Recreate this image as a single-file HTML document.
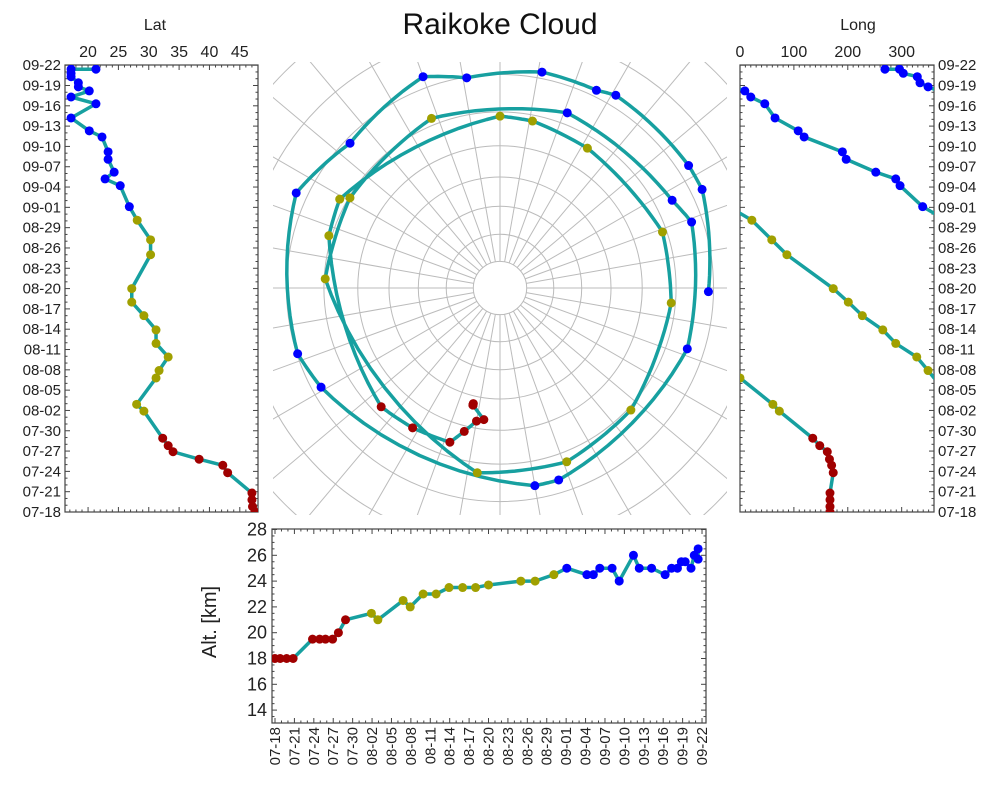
<!DOCTYPE html>
<html><head><meta charset="utf-8">
<style>
body{margin:0;background:#fff;}
svg{display:block;font-family:"Liberation Sans",sans-serif;}
</style></head>
<body>
<svg id="chart" width="1001" height="785" viewBox="0 0 1001 785">
<defs>
<clipPath id="clipL"><rect x="65" y="65" width="193" height="447"/></clipPath>
<clipPath id="clipR"><rect x="740" y="65" width="194" height="447"/></clipPath>
<clipPath id="clipB"><rect x="272" y="529" width="434" height="194"/></clipPath>
<clipPath id="clipM"><rect x="273" y="62" width="454" height="453"/></clipPath>
</defs>
<text x="500" y="34" text-anchor="middle" font-size="30" fill="#111">Raikoke Cloud</text>
<g id="g"></g>
</svg>
<script>
const days=[0.0,0.8,1.8,2.8,5.8,6.9,7.8,8.9,9.8,10.9,14.9,15.9,19.8,20.9,22.9,24.9,26.9,29,31,33,38,40.2,43.1,45.1,48.2,49.2,50.2,52.1,53.2,55.4,56.3,58.2,60.3,61.3,62.2,62.8,63.4,64.3,64.8,65.4,65.4];
const lats=[47.5,47.1,47,47,43,42.2,38.3,34,33.2,32.3,29.2,28,31.2,31.7,33.2,31.2,31.2,29.2,27.2,27.2,30.3,30.3,28.1,26.8,25.3,22.8,24.3,23.3,23.3,22.3,20.2,17.2,21.3,17.2,20.2,18.4,18.4,17.2,17.2,17.2,21.3];
const lons=[167,167,167,167,173,170,166,162,148,135,73,61,0,349,328,289,265,227,201,173,87,59,22,339,297,289,252,197,190,119,108,65,46,20,9,349,334,329,303,296,269];
const alts=[18,18,18,18,19.5,19.5,19.5,19.5,20,21,21.5,21,22.5,22,23,23,23.5,23.5,23.5,23.7,24,24,24.5,25,24.5,24.5,25,25,24,26,25,25,24.5,25,25,25.5,25.5,25,26,26.5,25.7];
const phases=["r","r","r","r","r","r","r","r","r","r","o","o","o","o","o","o","o","o","o","o","o","o","o","b","b","b","b","b","b","b","b","b","b","b","b","b","b","b","b","b","b"];
const dateLabels=["07-18","07-21","07-24","07-27","07-30","08-02","08-05","08-08","08-11","08-14","08-17","08-20","08-23","08-26","08-29","09-01","09-04","09-07","09-10","09-13","09-16","09-19","09-22"];
const latTicks=[20,25,30,35,40,45];
const lonTicks=[0,100,200,300];
const altTicks=[14,16,18,20,22,24,26,28];

const NS="http://www.w3.org/2000/svg";
const G=document.getElementById('g');
const COL={r:"#a00000",o:"#a0a000",b:"#0000ff"};
const LINE="#17a0a0";
function mk(t,a,p){const e=document.createElementNS(NS,t);for(const k in a)e.setAttribute(k,a[k]);(p||G).appendChild(e);return e;}

const latX=v=>65+(v-16.2)/(48-16.2)*193;
const dayYL=d=>512-d*6.77;
const lonX=v=>740+v/360*194;
const dayXB=d=>275+d*6.47;
const altY=v=>723-(v-13)*12.9;
const CX=500,CY=288,K=305;
const mapXY=(la,lo)=>{const r=K*Math.tan((90-la)/2*Math.PI/180);const t=lo*Math.PI/180;return [CX-r*Math.sin(t),CY-r*Math.cos(t)];};

function frame(x,y,w,h,name){
  const f=mk('rect',{x:x,y:y,width:w,height:h,fill:'none',stroke:'#444','stroke-width':1.2});
  
  
}
function tick(x1,y1,x2,y2){mk('line',{x1:x1,y1:y1,x2:x2,y2:y2,stroke:'#444','stroke-width':1});}

// ---------- Left (lat) panel ----------
frame(65,65,193,447,'lat-panel-frame');
for(let d=0;d<=66;d++){const y=dayYL(d);const L=d%3===0?5:2.5;tick(65,y,65+L,y);tick(258,y,258-L,y);}
for(let v=17;v<=48;v++){const x=latX(v);const L=v%5===0?5:2.5;tick(x,65,x,65+L);tick(x,512,x,512-L);}
dateLabels.forEach((s,i)=>{const t=mk('text',{x:61,y:dayYL(i*3)+5,'text-anchor':'end','font-size':15,fill:'#222'});t.textContent=s;
 });
latTicks.forEach(v=>{const t=mk('text',{x:latX(v),y:57,'text-anchor':'middle','font-size':16,fill:'#222'});t.textContent=v;
 });
{const t=mk('text',{x:155,y:30,'text-anchor':'middle','font-size':16,fill:'#222'});t.textContent='Lat';
 }
{const gL=mk('g',{'clip-path':'url(#clipL)'});
 
 mk('polyline',{points:days.map((d,i)=>latX(lats[i])+','+dayYL(d)).join(' '),fill:'none',stroke:LINE,'stroke-width':3.5,'stroke-linejoin':'round'},gL);
 days.forEach((d,i)=>{const c=mk('circle',{cx:latX(lats[i]),cy:dayYL(d),r:4.5,fill:COL[phases[i]]},gL);
  });}

// ---------- Right (long) panel ----------
frame(740,65,194,447,'long-panel-frame');
for(let d=0;d<=66;d++){const y=dayYL(d);const L=d%3===0?5:2.5;tick(740,y,740+L,y);tick(934,y,934-L,y);}
for(let v=0;v<=360;v+=10){const x=lonX(v);const L=v%100===0?5:2.5;tick(x,65,x,65+L);tick(x,512,x,512-L);}
dateLabels.forEach((s,i)=>{const t=mk('text',{x:938,y:dayYL(i*3)+5,'text-anchor':'start','font-size':15,fill:'#222'});t.textContent=s;
 });
lonTicks.forEach(v=>{const t=mk('text',{x:lonX(v),y:57,'text-anchor':'middle','font-size':16,fill:'#222'});t.textContent=v;
 });
{const t=mk('text',{x:858,y:30,'text-anchor':'middle','font-size':16,fill:'#222'});t.textContent='Long';
 }
{const gR=mk('g',{'clip-path':'url(#clipR)'});
 
 for(let i=0;i<days.length-1;i++){
  let a=lons[i],b=lons[i+1];const y1=dayYL(days[i]),y2=dayYL(days[i+1]);
  if(Math.abs(b-a)>180){const s=b>a?-360:360;
    mk('line',{x1:lonX(a),y1:y1,x2:lonX(b+s),y2:y2,stroke:LINE,'stroke-width':3.5,'stroke-linecap':'round'},gR);
    mk('line',{x1:lonX(a-s),y1:y1,x2:lonX(b),y2:y2,stroke:LINE,'stroke-width':3.5,'stroke-linecap':'round'},gR);
  } else mk('line',{x1:lonX(a),y1:y1,x2:lonX(b),y2:y2,stroke:LINE,'stroke-width':3.5,'stroke-linecap':'round'},gR);
 }
 days.forEach((d,i)=>{const c=mk('circle',{cx:lonX(lons[i]),cy:dayYL(d),r:4.5,fill:COL[phases[i]]},gR);
  });}

// ---------- Bottom (alt) panel ----------
frame(272,529,434,194,'alt-panel-frame');
for(let d=0;d<=66;d++){const x=dayXB(d);const L=d%3===0?5:2.5;tick(x,723,x,723-L);tick(x,529,x,529+L);}
for(let v=13;v<=28;v+=0.5){const y=altY(v);const L=(v%2===0)?5:2.5;tick(272,y,272+L,y);tick(706,y,706-L,y);}
altTicks.forEach(v=>{const t=mk('text',{x:267,y:altY(v)+6,'text-anchor':'end','font-size':18,fill:'#222'});t.textContent=v;
 });
dateLabels.forEach((s,i)=>{const x=dayXB(i*3);const t=mk('text',{x:0,y:0,'text-anchor':'end','font-size':15,fill:'#222',transform:`translate(${x+5},727) rotate(-90)`});t.textContent=s;
 });
{const t=mk('text',{x:0,y:0,'text-anchor':'middle','font-size':20,fill:'#222',transform:'translate(216,622) rotate(-90)'});t.textContent='Alt. [km]';
 }
{const gB=mk('g',{'clip-path':'url(#clipB)'});
 
 mk('polyline',{points:days.map((d,i)=>dayXB(d)+','+altY(alts[i])).join(' '),fill:'none',stroke:LINE,'stroke-width':3.5,'stroke-linejoin':'round'},gB);
 days.forEach((d,i)=>{const c=mk('circle',{cx:dayXB(d),cy:altY(alts[i]),r:4.5,fill:COL[phases[i]]},gB);
  });}

// ---------- Polar map ----------
function toVec(la,lo){const p=la*Math.PI/180,l=lo*Math.PI/180;return [Math.cos(p)*Math.cos(l),Math.cos(p)*Math.sin(l),Math.sin(p)];}
function toLL(v){const n=Math.hypot(v[0],v[1],v[2]);return [Math.asin(v[2]/n)*180/Math.PI,Math.atan2(v[1],v[0])*180/Math.PI];}
{const gM=mk('g',{'clip-path':'url(#clipM)'});
 
 for(let la=80;la>=-10;la-=10){const r=K*Math.tan((90-la)/2*Math.PI/180);
  const c=mk('circle',{cx:CX,cy:CY,r:r,fill:'none',stroke:'#bbb','stroke-width':1},gM);
  }
 for(let lo=0;lo<360;lo+=10){const p1=mapXY(80,lo),p2=mapXY(-20,lo);
  mk('line',{x1:p1[0],y1:p1[1],x2:p2[0],y2:p2[1],stroke:'#bbb','stroke-width':1},gM);}
 // great-circle interpolation between consecutive positions
 const path=[mapXY(lats[0],lons[0])];
 for(let i=1;i<days.length;i++){
  const a=toVec(lats[i-1],lons[i-1]),b=toVec(lats[i],lons[i]);
  const n=12;
  for(let k=1;k<=n;k++){const f=k/n;const v=[a[0]+(b[0]-a[0])*f,a[1]+(b[1]-a[1])*f,a[2]+(b[2]-a[2])*f];const ll=toLL(v);path.push(mapXY(ll[0],ll[1]));}
 }
 const tr=mk('polyline',{points:path.map(p=>p[0].toFixed(1)+','+p[1].toFixed(1)).join(' '),fill:'none',stroke:LINE,'stroke-width':3.5,'stroke-linejoin':'round'},gM);
 
 days.forEach((d,i)=>{const p=mapXY(lats[i],lons[i]);const c=mk('circle',{cx:p[0],cy:p[1],r:4.5,fill:COL[phases[i]]},gM);
  });}
</script>
</body></html>
